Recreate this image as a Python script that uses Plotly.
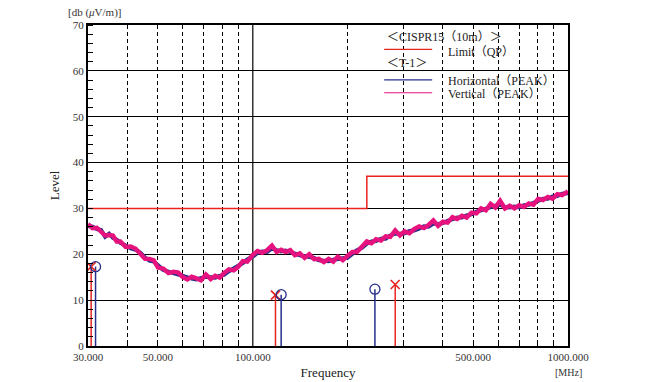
import plotly.graph_objects as go

# ---------------- data ----------------
freq = [30, 31, 32, 33, 34, 35, 36, 37, 38, 39.5, 41, 42.5, 44, 45.5, 47, 48.5, 50, 52, 54, 56,
        58, 60, 62, 64, 66, 68.5, 71, 73.5, 76, 78.5, 81, 84, 87, 90, 93, 96, 100, 103.5, 107, 111,
        115, 119, 123, 127, 131.5, 136, 141, 146, 151, 156.5, 162, 168, 174, 180, 186, 193, 200, 207,
        214, 222, 230, 238, 246, 255, 264, 273, 283, 293, 303, 314, 325, 337, 349, 361, 374, 387, 401,
        415, 430, 445, 461, 477, 494, 512, 530, 549, 568, 588, 609, 631, 653, 676, 700, 725, 751, 777,
        805, 833, 863, 893, 925, 958, 1000]

vertical_peak = [26.6, 25.7, 25.8, 25.0, 24.1, 24.2, 24.1, 22.8, 22.8, 21.6,
                 21.7, 21.2, 19.9, 19.0, 19.0, 18.7, 17.1, 16.9, 15.9, 16.2,
                 16.0, 15.0, 14.5, 15.1, 14.8, 14.3, 15.6, 14.6, 15.3, 14.9,
                 15.9, 16.7, 16.5, 17.3, 18.5, 18.4, 19.9, 20.7, 20.3, 20.9,
                 21.9, 20.5, 21.0, 20.5, 20.9, 19.8, 20.2, 19.2, 20.0, 18.9,
                 19.0, 18.3, 19.0, 18.4, 19.5, 18.7, 19.7, 20.5, 20.5, 21.8,
                 22.8, 22.4, 23.3, 23.0, 23.9, 23.8, 25.2, 24.1, 25.0, 24.6,
                 25.5, 26.1, 25.7, 26.4, 27.4, 26.2, 27.1, 26.9, 28.1, 27.7,
                 28.4, 28.0, 29.1, 28.9, 30.0, 29.6, 31.0, 30.2, 31.7, 30.0,
                 30.6, 30.0, 30.7, 30.3, 31.1, 30.8, 32.1, 31.8, 32.5, 32.1,
                 33.1, 32.9, 33.7]

horizontal_peak = [26.2, 26.0, 25.5, 25.3, 23.8, 24.5, 23.6, 23.2, 22.5, 21.9,
                   21.3, 21.0, 20.3, 19.3, 18.6, 18.4, 17.5, 16.6, 16.2, 15.8,
                   15.6, 15.3, 14.9, 14.7, 14.5, 14.7, 15.1, 15.0, 14.9, 15.3,
                   15.5, 16.3, 16.9, 17.6, 18.1, 18.9, 19.5, 20.3, 20.6, 20.5,
                   21.3, 20.9, 20.6, 20.8, 20.4, 20.2, 19.8, 19.6, 19.5, 19.2,
                   18.7, 18.7, 18.5, 18.8, 18.9, 19.1, 19.3, 20.1, 20.9, 21.4,
                   22.3, 22.8, 22.9, 23.4, 23.4, 24.1, 24.5, 24.5, 24.6, 25.1,
                   25.2, 25.6, 26.1, 26.0, 26.7, 26.6, 26.8, 27.3, 27.6, 28.0,
                   28.0, 28.5, 28.7, 29.3, 29.6, 30.0, 30.4, 30.6, 30.8, 30.3,
                   30.2, 30.4, 30.2, 30.7, 30.8, 31.2, 31.5, 32.1, 32.1, 32.6,
                   32.7, 33.2, 33.3]

limit_freq = [30, 230, 1000]
limit_level = [30, 37, 37]

vert_qp_freq = [30.7, 118, 283]
vert_qp_level = [17.3, 11.1, 13.4]
horz_qp_freq = [31.7, 123, 244]
horz_qp_level = [17.3, 11.2, 12.4]

x_tick_vals = [30, 50, 100, 500, 1000]
x_tick_text = ["30.000", "50.000", "100.000", "500.000", "1000.000"]
x_minor_grid = [40, 50, 60, 70, 80, 90, 200, 300, 400, 500, 600, 700, 800, 900]
y_tick_vals = [0, 10, 20, 30, 40, 50, 60, 70]

RED = "#e8231f"
BLUE = "#262f8c"
PINK = "#e6137f"
FONT = "Liberation Serif, Noto Sans CJK JP, serif"

def stems(xs, ys):
    sx, sy = [], []
    for a, b in zip(xs, ys):
        sx += [a, a, None]
        sy += [0, b, None]
    return sx, sy

fig = go.Figure()

fig.add_trace(go.Scatter(x=freq, y=horizontal_peak, mode="lines",
                         line=dict(color=BLUE, width=4.0), showlegend=False))
fig.add_trace(go.Scatter(x=freq, y=vertical_peak, mode="lines",
                         line=dict(color=PINK, width=4.4), showlegend=False))
fig.add_trace(go.Scatter(x=limit_freq, y=limit_level, mode="lines", line_shape="hv",
                         line=dict(color=RED, width=1.5), showlegend=False))

sx, sy = stems(vert_qp_freq, vert_qp_level)
fig.add_trace(go.Scatter(x=sx, y=sy, mode="lines", line=dict(color=RED, width=1.5), showlegend=False))
sx, sy = stems(horz_qp_freq, horz_qp_level)
fig.add_trace(go.Scatter(x=sx, y=sy, mode="lines", line=dict(color=BLUE, width=1.5), showlegend=False))
fig.add_trace(go.Scatter(x=vert_qp_freq, y=vert_qp_level, mode="markers",
                         marker=dict(symbol="x-thin", size=9, line=dict(color=RED, width=1.6)),
                         showlegend=False))
fig.add_trace(go.Scatter(x=horz_qp_freq, y=horz_qp_level, mode="markers",
                         marker=dict(symbol="circle-open", size=10, color=BLUE, line=dict(width=1.3)),
                         showlegend=False))

# solid vertical grid line at 100 MHz
fig.add_shape(type="line", xref="x", yref="paper", x0=100, x1=100, y0=0, y1=1,
              line=dict(color="black", width=1.2), layer="below")

# legend drawn in the plot corner
leg_lines = [(0.924, RED), (0.829, BLUE), (0.789, PINK)]
for yy, col in leg_lines:
    fig.add_shape(type="line", xref="paper", yref="paper", x0=0.617, x1=0.717, y0=yy, y1=yy,
                  line=dict(color=col, width=1.2))
leg_texts = [(0.618, 0.962, "＜CISPR15（10m）＞"), (0.745, 0.917, "Limit（QP）"),
             (0.618, 0.881, "＜T-1＞"), (0.745, 0.826, "Horizontal（PEAK）"),
             (0.745, 0.785, "Vertical（PEAK）")]
for xx, yy, t in leg_texts:
    fig.add_annotation(xref="paper", yref="paper", x=xx, y=yy, text=t, showarrow=False,
                       xanchor="left", yanchor="middle", font=dict(family=FONT, size=12, color="#222"))

fig.add_annotation(xref="paper", yref="paper", x=-0.045, y=1.012, text="[db (<i>μ</i>V/m)]",
                   showarrow=False, xanchor="left", yanchor="bottom",
                   font=dict(family=FONT, size=11, color="#333"))
fig.add_annotation(xref="paper", yref="paper", x=1.0, y=-0.06, text="[MHz]", showarrow=False,
                   xanchor="center", yanchor="top", font=dict(family=FONT, size=10, color="#333"))

fig.update_xaxes(type="log", range=[1.4771, 3.0], tickvals=x_tick_vals, ticktext=x_tick_text,
                 showgrid=False, showline=True, linecolor="black", linewidth=2, mirror=True,
                 ticks="", tickfont=dict(family=FONT, size=11, color="#333"), automargin=False,
                 title=dict(text="Frequency", font=dict(family=FONT, size=13, color="#222"), standoff=6),
                 minor=dict(tickvals=x_minor_grid, showgrid=True, gridcolor="black", gridwidth=1,
                            griddash="4px,3px", ticks="inside", ticklen=5, tickcolor="black"),
                 zeroline=False)
fig.update_yaxes(range=[0, 70], tickvals=y_tick_vals, showgrid=True, gridcolor="black", gridwidth=1,
                 showline=True, linecolor="black", linewidth=2, mirror=True, automargin=False,
                 ticks="", tickfont=dict(family=FONT, size=11, color="#333"),
                 title=dict(text="Level", font=dict(family=FONT, size=13, color="#222"), standoff=10),
                 minor=dict(dtick=2, ticks="inside", ticklen=5, tickcolor="black", showgrid=False),
                 zeroline=False)

fig.update_layout(width=660, height=382, margin=dict(l=88, r=92, t=25, b=36),
                  plot_bgcolor="white", paper_bgcolor="white")

# remove the default page margin so the figure fills the window exactly
fig.write_html("out.html", config={"displayModeBar": False},
               post_script="document.body.style.margin='0px';document.body.style.overflow='hidden';")
